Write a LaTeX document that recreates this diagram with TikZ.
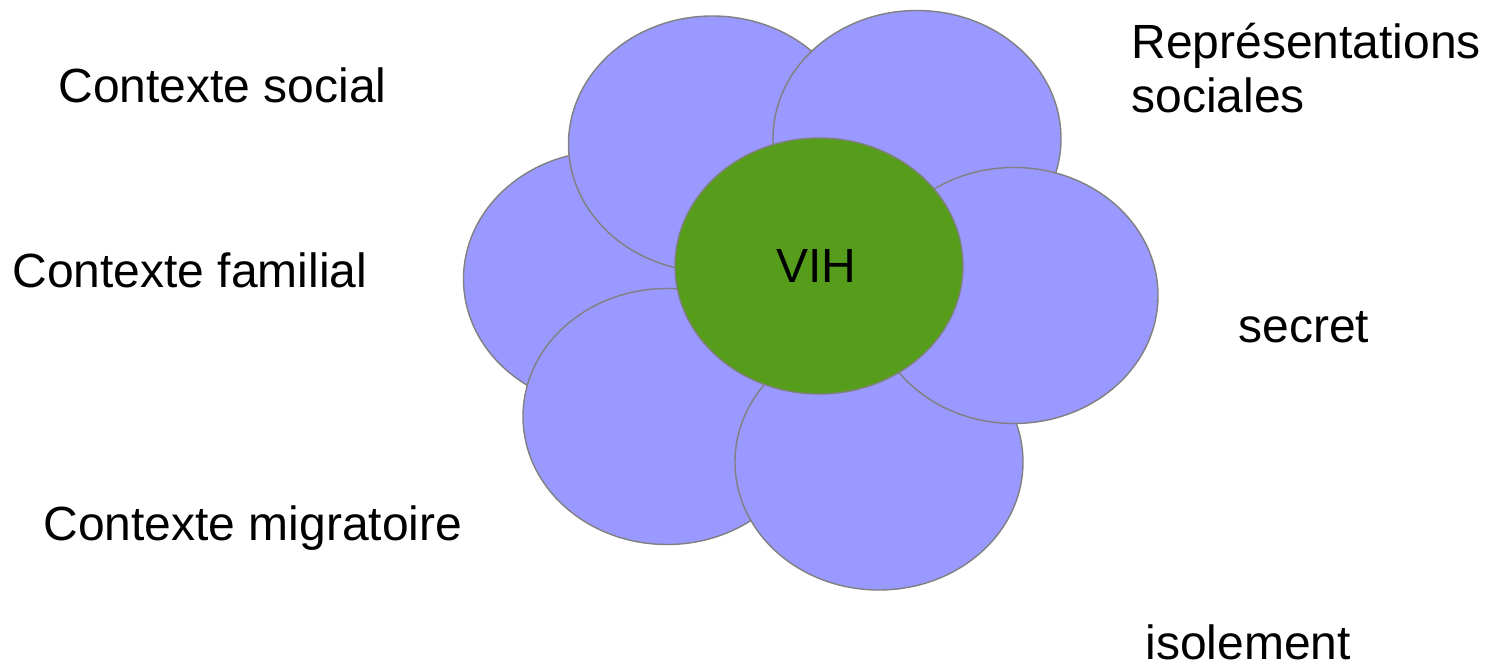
\documentclass[tikz,border=0pt]{standalone}
\usepackage{fontspec}
\setmainfont{Liberation Sans}
\usetikzlibrary{shapes.geometric}
\definecolor{petalfill}{HTML}{9999FF}
\definecolor{hivgreen}{HTML}{579D1C}
\definecolor{edgegray}{HTML}{808080}
\tikzset{
  petal/.style={ellipse, draw=edgegray, line width=0.7pt, fill=petalfill,
    inner sep=0pt, minimum width=144pt, minimum height=128pt},
  core/.style={ellipse, draw=edgegray, line width=0.7pt, fill=hivgreen,
    inner sep=0pt, minimum width=144pt, minimum height=128pt},
  lbl/.style={inner sep=0pt, anchor=base west, align=left, text depth=0pt,
    font=\fontsize{24}{27}\selectfont}
}
\begin{document}
\begin{tikzpicture}[x=0.5pt,y=-0.5pt]
\useasboundingbox (0,0) rectangle (1488,668);
% petals in stacking order
\node[petal] (pleft)     at (607.5,279) {};
\node[petal] (ptopleft)  at (712.5,144) {};
\node[petal] (ptopright) at (917,138.5) {};
\node[petal] (pbotleft)  at (667,416.5) {};
\node[petal] (pbottom)   at (879,462) {};
\node[petal] (pright)    at (1014,295.5) {};
% centre
\node[core] (vih) at (819,266) {};
\node[inner sep=0pt, anchor=base, font=\fontsize{24}{27}\selectfont] (vihtext) at (816,283) {VIH};
% labels
\node[lbl] (social)   at (58,103)  {Contexte social};
\node[lbl] (familial) at (12,287)  {Contexte familial};
\node[lbl] (migr)     at (43,540)  {Contexte migratoire};
\node[lbl] (repr)     at (1131,113) {Représentations\\sociales};
\node[lbl] (secret)   at (1238,343) {secret};
\node[lbl] (isol)     at (1145,659) {isolement};
\end{tikzpicture}
\end{document}
